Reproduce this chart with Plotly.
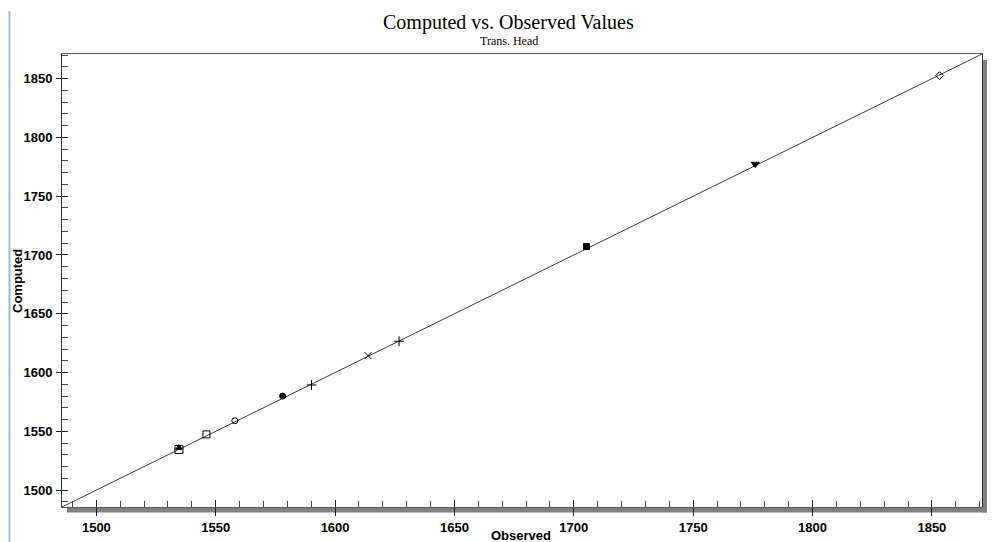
import plotly.graph_objects as go

# ---- data ----
point_names = ["Well A", "Well B", "Well C", "Well D", "Well E", "Well F",
               "Well G", "Well H", "Well I", "Well J", "Well K"]
observed = [1534.6, 1534.6, 1546.1, 1558.0, 1578.0, 1590.1, 1613.8, 1626.8, 1705.3, 1776.0, 1853.2]
computed = [1534.5, 1536.0, 1547.4, 1559.0, 1580.0, 1589.4, 1614.4, 1626.6, 1707.2, 1777.4, 1852.6]
symbols = ["square-open", "triangle-up", "square-open", "circle-open", "circle",
           "cross-thin-open", "x-thin-open", "cross-thin-open", "square", "triangle-down", "diamond-open"]
sizes = [8, 6, 7, 6, 6, 7, 7, 7, 6, 7, 6]

axis_range = [1485.6, 1871.0]
tick_vals = [1500, 1550, 1600, 1650, 1700, 1750, 1800, 1850]
tick_text = ["1500", "1550", "1600", "1650", "1700", "1750", "1800", "1850"]

title = "Computed vs. Observed Values"
subtitle = "Trans. Head"
x_title = "Observed"
y_title = "Computed"

fig = go.Figure()

# 1:1 line
fig.add_trace(go.Scatter(x=axis_range, y=axis_range, mode="lines",
                         line=dict(color="#3a3a3a", width=1), showlegend=False,
                         hoverinfo="skip"))

for n, xo, yc, s, sz in zip(point_names, observed, computed, symbols, sizes):
    fig.add_trace(go.Scatter(x=[xo], y=[yc], mode="markers", name=n, showlegend=False,
                             marker=dict(symbol=s, size=sz, color="black",
                                         line=dict(color="black", width=1))))

# invisible trace for overlay axes (crossing major ticks)
fig.add_trace(go.Scatter(x=[axis_range[0]], y=[axis_range[0]], xaxis="x2", yaxis="y2",
                         mode="markers", marker=dict(opacity=0), showlegend=False,
                         hoverinfo="skip"))

tickfont = dict(family="Liberation Sans, Arial", size=13, color="black", weight="bold")

# page body has an 8px margin, so the figure is offset by (8, 8)
fig.update_layout(
    width=987, height=534,
    margin=dict(l=54, r=13, t=46, b=35, autoexpand=False),
    paper_bgcolor="white", plot_bgcolor="white",
    showlegend=False,
    xaxis=dict(range=axis_range, tickvals=tick_vals, ticktext=tick_text,
               ticks="inside", ticklen=7, tickcolor="#222", tickwidth=1,
               tickfont=tickfont, ticklabelstandoff=8, automargin=False,
               minor=dict(dtick=10, tick0=1500, ticks="inside", ticklen=6,
                          tickcolor="#444", tickwidth=1, showgrid=False),
               showgrid=False, zeroline=False,
               showline=True, linecolor="#555", linewidth=1, mirror=True),
    yaxis=dict(range=axis_range, tickvals=tick_vals, ticktext=tick_text,
               ticks="outside", ticklen=5, tickcolor="#222", tickwidth=1,
               tickfont=tickfont, ticklabelstandoff=1, automargin=False,
               minor=dict(dtick=10, tick0=1500, ticks="inside", ticklen=6,
                          tickcolor="#444", tickwidth=1, showgrid=False),
               showgrid=False, zeroline=False,
               showline=True, linecolor="#333", linewidth=1, mirror=True),
    xaxis2=dict(range=axis_range, overlaying="x", anchor="y", side="bottom",
                tickvals=tick_vals, ticks="outside", ticklen=8, tickcolor="#222",
                showticklabels=False, showgrid=False, zeroline=False, showline=False,
                automargin=False),
    yaxis2=dict(range=axis_range, overlaying="y", anchor="x", side="left",
                tickvals=tick_vals, ticks="inside", ticklen=5, tickcolor="#222",
                showticklabels=False, showgrid=False, zeroline=False, showline=False,
                automargin=False),
)

pw, ph = 920.0, 453.0
shadow = "#808080"
# drop shadow (bottom & right)
fig.add_shape(type="rect", xref="paper", yref="paper", layer="below",
              x0=5 / pw, x1=1 + 5 / pw, y0=-5.5 / ph, y1=0,
              fillcolor=shadow, line=dict(width=0))
fig.add_shape(type="rect", xref="paper", yref="paper", layer="below",
              x0=1, x1=1 + 5 / pw, y0=-5.5 / ph, y1=1 - 6 / ph,
              fillcolor=shadow, line=dict(width=0))
# window edge artifact on the left
fig.add_shape(type="line", xref="paper", yref="paper",
              x0=(9.5 - 62) / pw, x1=(9.5 - 62) / pw, y0=-35 / ph, y1=(531 - 35) / ph,
              line=dict(color="#9fb7d8", width=2))

fig.add_annotation(text=title, xref="paper", yref="paper",
                   x=(508 - 62) / pw, y=(520 - 35) / ph, xanchor="center", yanchor="middle",
                   showarrow=False,
                   font=dict(family="Liberation Serif, Times New Roman", size=20, color="black"))
fig.add_annotation(text=subtitle, xref="paper", yref="paper",
                   x=(509 - 62) / pw, y=(501 - 35) / ph, xanchor="center", yanchor="middle",
                   showarrow=False,
                   font=dict(family="Liberation Serif, Times New Roman", size=12, color="black"))
fig.add_annotation(text="<b>%s</b>" % x_title, xref="paper", yref="paper",
                   x=(521 - 62) / pw, y=(7 - 35) / ph, xanchor="center", yanchor="middle",
                   showarrow=False, font=dict(family="Liberation Sans, Arial", size=13, color="black"))
fig.add_annotation(text="<b>%s</b>" % y_title, xref="paper", yref="paper",
                   x=(17 - 62) / pw, y=(261 - 35) / ph, xanchor="center", yanchor="middle",
                   textangle=-90, showarrow=False,
                   font=dict(family="Liberation Sans, Arial", size=13, color="black"))

fig.write_html("out.html")
